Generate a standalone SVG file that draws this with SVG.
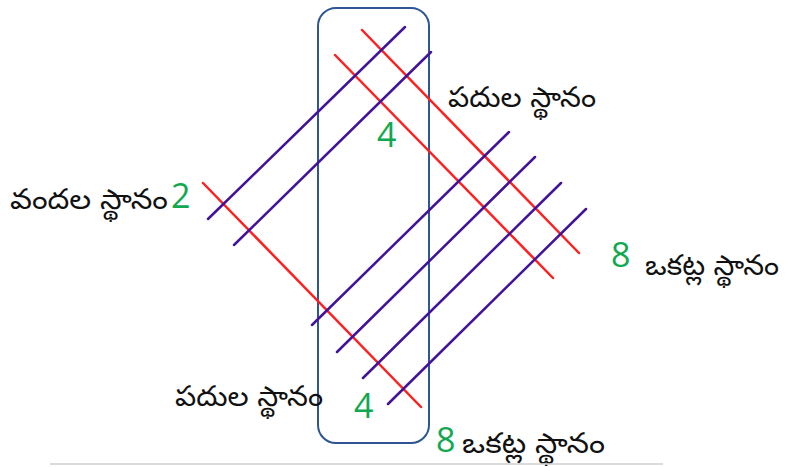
<svg xmlns="http://www.w3.org/2000/svg" width="790" height="467" viewBox="0 0 790 467">
<style>
.red{stroke:#ff1f1f;stroke-width:2.5;stroke-linecap:round}
.pur{stroke:#42139a;stroke-width:2.5;stroke-linecap:round}
.lbl{font-family:"Noto Sans Telugu","Gautami","Noto Sans",sans-serif;font-size:28px;fill:#111}
.num{font-family:"Open Sans","Liberation Sans",sans-serif;font-size:34px;fill:#12a84f}
</style>
<rect width="790" height="467" fill="#ffffff"/>
<g id="box"><rect x="318" y="8" width="111" height="435" rx="18" ry="18" fill="none" stroke="#2f5597" stroke-width="2"/></g>
<g id="connectors">
<line class="red" x1="362" y1="30" x2="579" y2="253"/>
<line class="red" x1="335" y1="55" x2="553" y2="278"/>
<line class="red" x1="203" y1="183" x2="421" y2="407"/>
<line class="pur" x1="208" y1="219" x2="405" y2="27"/>
<line class="pur" x1="234" y1="245" x2="431" y2="52"/>
<line class="pur" x1="312" y1="325" x2="509" y2="132"/>
<line class="pur" x1="337" y1="352" x2="535" y2="157"/>
<line class="pur" x1="363" y1="378" x2="561" y2="183"/>
<line class="pur" x1="388" y1="404" x2="586" y2="209"/>
</g>
<g id="label-hundreds"><text class="lbl" x="10" y="209" textLength="158" lengthAdjust="spacingAndGlyphs">వందల స్థానం</text><text class="num" x="171" y="208">2</text></g>
<g id="label-tens-top"><text class="lbl" x="448" y="107" textLength="148" lengthAdjust="spacingAndGlyphs">పదుల స్థానం</text><text class="num" x="377" y="147">4</text></g>
<g id="label-ones-right"><text class="num" x="611" y="267">8</text><text class="lbl" x="645" y="275" textLength="134" lengthAdjust="spacingAndGlyphs">ఒకట్ల స్థానం</text></g>
<g id="label-tens-bottom"><text class="lbl" x="175" y="406" textLength="148" lengthAdjust="spacingAndGlyphs">పదుల స్థానం</text><text class="num" x="354" y="418">4</text></g>
<g id="label-ones-bottom"><text class="num" x="436" y="452">8</text><text class="lbl" x="462" y="453" textLength="143" lengthAdjust="spacingAndGlyphs">ఒకట్ల స్థానం</text></g>
<line x1="50" y1="464" x2="663" y2="464" stroke="#cfcfcf" stroke-width="1.5"/>
</svg>
